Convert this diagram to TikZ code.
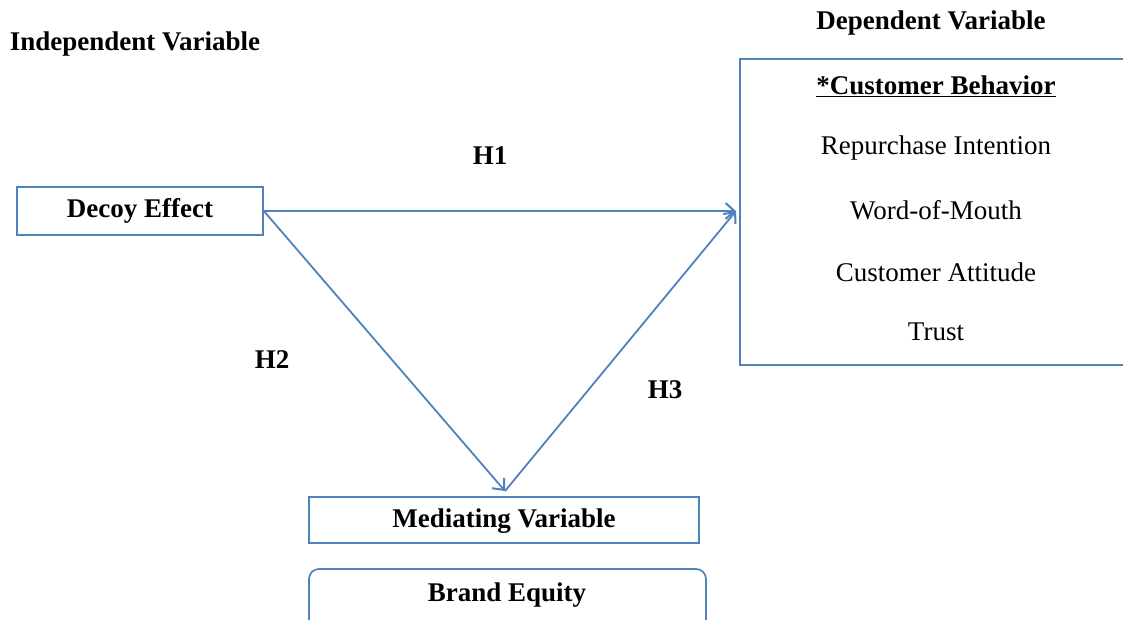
\documentclass[tikz,border=0pt]{standalone}
\usepackage{fontspec}
\setmainfont{Liberation Serif}
\usetikzlibrary{arrows.meta}
\definecolor{ln}{RGB}{79,129,189}
\begin{document}
\begin{tikzpicture}[x=1pt,y=-1pt,
  box/.style={draw=ln, line width=1.7pt, inner sep=0pt},
  lbl/.style={font=\fontsize{27}{32}\selectfont\bfseries, inner sep=0pt},
  item/.style={font=\fontsize{27}{32}\selectfont, inner sep=0pt},
  conn/.style={draw=ln, line width=1.8pt, -{Straight Barb[length=9pt,width=16pt,line width=2pt]}}]
\useasboundingbox (0,0) rectangle (1123,620);
\clip (0,0) rectangle (1123,620);
\node[lbl] (iv) at (135,44) {Independent Variable};
\node[lbl] (dv) at (931,23) {Dependent Variable};
\node[box, minimum width=246pt, minimum height=48pt, lbl] (decoy) at (140,211) {Decoy Effect};
\node[box, minimum width=400pt, minimum height=306pt] (dep) at (940,212) {};
\node[lbl] (cb) at (936,86) {\underline{*Customer Behavior}};
\node[item] (ri) at (936,148) {Repurchase Intention};
\node[item] (wm) at (936,210) {Word-of-Mouth};
\node[item] (ca) at (936,272) {Customer Attitude};
\node[item] (tr) at (936,332) {Trust};
\node[box, minimum width=390pt, minimum height=46pt] (med) at (504,520) {};
\node[lbl] (medt) at (504,521) {Mediating Variable};
\node[box, rounded corners=10pt, minimum width=397pt, minimum height=90pt] (be) at (507.5,614) {};
\node[lbl] (bet) at (507,595) {Brand Equity};
\coordinate (apex) at (505,491);
\coordinate (tipr) at (736,211);
\draw[conn] (decoy.east) -- (tipr);
\draw[conn] (decoy.east) -- (apex);
\draw[conn] (apex) -- (tipr);
\node[lbl] (h1) at (490,156) {H1};
\node[lbl] (h2) at (272,360) {H2};
\node[lbl] (h3) at (665,390) {H3};
\end{tikzpicture}
\end{document}
